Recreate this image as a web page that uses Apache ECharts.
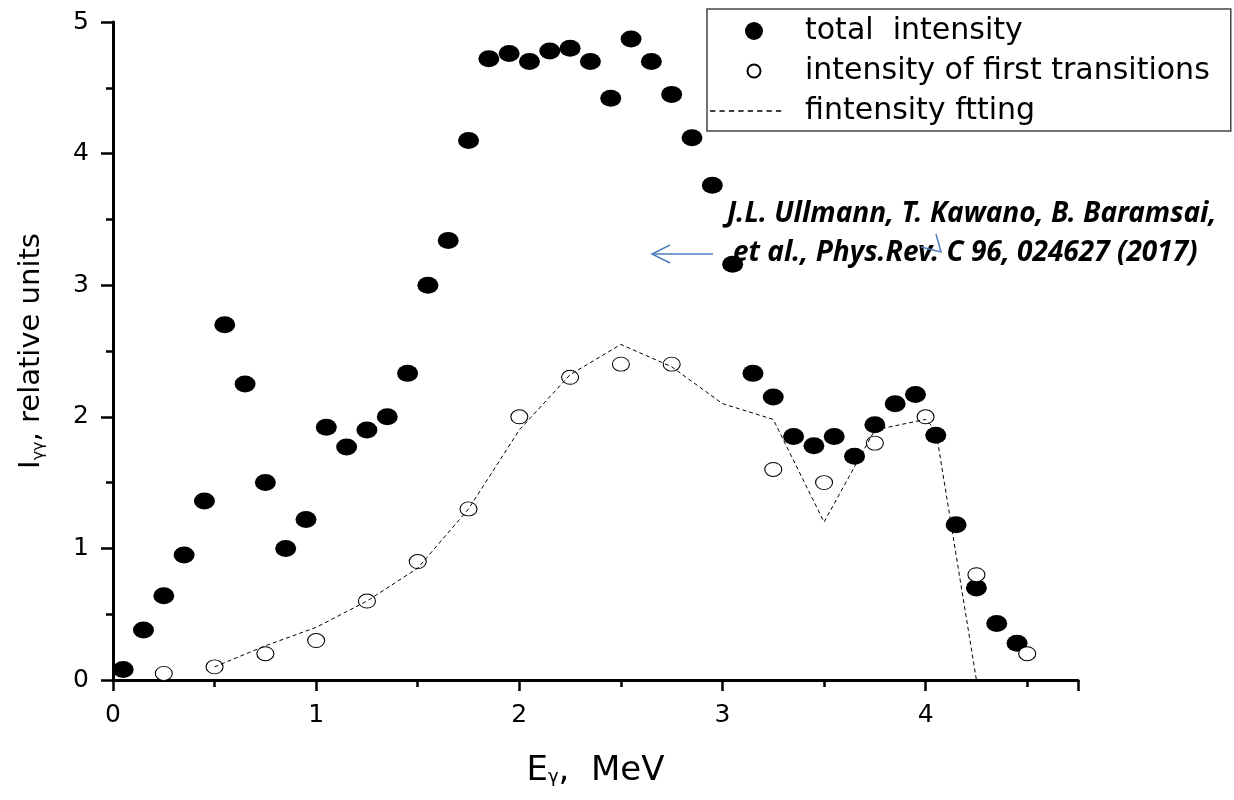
<!DOCTYPE html>
<html>
<head>
<meta charset="utf-8">
<script src="https://cdn.jsdelivr.net/npm/echarts@6/dist/echarts.min.js"></script>
<style>
html,body{margin:0;padding:0;background:#fff;}
#chart{width:1234px;height:800px;}
</style>
</head>
<body>
<div id="chart"></div>
<script>
// ---- data ----
const totalX = [0.05,0.15,0.25,0.35,0.45,0.55,0.65,0.75,0.85,0.95,
                1.05,1.15,1.25,1.35,1.45,1.55,1.65,1.75,1.85,1.95,
                2.05,2.15,2.25,2.35,2.45,2.55,2.65,2.75,2.85,2.95,
                3.05,3.15,3.25,3.35,3.45,3.55,3.65,3.75,3.85,3.95,
                4.05,4.15,4.25,4.35,4.45];
const totalY = [0.08,0.38,0.64,0.95,1.36,2.70,2.25,1.50,1.00,1.22,
                1.92,1.77,1.90,2.00,2.33,3.00,3.34,4.10,4.72,4.76,
                4.70,4.78,4.80,4.70,4.42,4.87,4.70,4.45,4.12,3.76,
                3.16,2.33,2.15,1.85,1.78,1.85,1.70,1.94,2.10,2.17,
                1.86,1.18,0.70,0.43,0.28];
const firstX = [0.25,0.5,0.75,1.0,1.25,1.5,1.75,2.0,2.25,2.5,2.75,3.25,3.5,3.75,4.0,4.25,4.5];
const firstY = [0.05,0.10,0.20,0.30,0.60,0.90,1.30,2.00,2.30,2.40,2.40,1.60,1.50,1.80,2.00,0.80,0.20];
const fitX = [0.5,0.75,1.0,1.25,1.5,1.75,2.0,2.25,2.5,2.75,3.0,3.25,3.5,3.75,4.0,4.05,4.25];
const fitY = [0.10,0.26,0.40,0.60,0.85,1.30,1.90,2.32,2.55,2.38,2.10,1.98,1.20,1.90,1.98,1.90,0.00];
const seriesNames = ['total  intensity', 'intensity of first transitions', 'fintensity ftting'];
const xTickLabels = ['0','1','2','3','4'];
const yTickLabels = ['0','1','2','3','4','5'];
const noteLines = ['J.L. Ullmann, T. Kawano, B. Baramsai,', 'et al., Phys.Rev. C 96, 024627 (2017)'];

const pair = (xs, ys) => xs.map((x, i) => [x, ys[i]]);

// legend icons
const openIcon = 'path://M0,0L0,0M18,18L18,18M9,2.5C12.6,2.5 15.5,5.4 15.5,9C15.5,12.6 12.6,15.5 9,15.5C5.4,15.5 2.5,12.6 2.5,9C2.5,5.4 5.4,2.5 9,2.5Z';
let dashIcon = 'path://M0,0L0,0M88,0L88,0';
for (let k = 0; k < 8; k++) { const x = 2 + k * 9; dashIcon += 'M' + x + ',0h5v1.3h-5z'; }

const FONT = 'DejaVu Sans';
const NOTE_FONT = 'Noto Sans';
const chart = echarts.init(document.getElementById('chart'), null, {renderer: 'canvas'});
chart.setOption({
  backgroundColor: '#fff',
  animation: false,
  grid: {left: 113, right: 156, top: 22, bottom: 120, containLabel: false},
  legend: {
    orient: 'vertical', left: 707, top: 9,
    padding: [7, 21, 5, 1],
    itemWidth: 92, itemHeight: 18, itemGap: 10,
    borderColor: '#444', borderWidth: 1.5,
    textStyle: {fontFamily: FONT, fontSize: 30, color: '#000', lineHeight: 29},
    selectedMode: false,
    data: [
      {name: seriesNames[0], icon: 'circle'},
      {name: seriesNames[1], icon: openIcon},
      {name: seriesNames[2], icon: dashIcon, itemStyle: {borderWidth: 0}}
    ]
  },
  xAxis: {
    type: 'value', min: 0, max: 4.75, interval: 1,
    name: '{m|E}{s|γ}{m|,  MeV}', nameLocation: 'middle', nameGap: 74,
    nameTextStyle: {
      rich: {
        m: {fontFamily: FONT, fontSize: 34, color: '#000', lineHeight: 32, verticalAlign: 'top'},
        s: {fontFamily: FONT, fontSize: 18, color: '#000', lineHeight: 17, verticalAlign: 'bottom'}
      },
      lineHeight: 40
    },
    axisLine: {lineStyle: {color: '#000', width: 3}},
    axisTick: {length: 11, lineStyle: {color: '#000', width: 2.5}},
    minorTick: {show: true, splitNumber: 2, length: 7, lineStyle: {color: '#000', width: 2.5}},
    splitLine: {show: false},
    axisLabel: {
      fontFamily: FONT, fontSize: 25, color: '#000', margin: 23,
      formatter: v => (Number.isInteger(v) && v < xTickLabels.length) ? xTickLabels[v] : ''
    }
  },
  yAxis: {
    type: 'value', min: 0, max: 5, interval: 1,
    name: '{m|I}{s|γγ}{m|, relative units}', nameLocation: 'middle', nameGap: 66,
    nameTextStyle: {
      rich: {
        m: {fontFamily: FONT, fontSize: 29, color: '#000', lineHeight: 30, verticalAlign: 'top'},
        s: {fontFamily: FONT, fontSize: 16, color: '#000', lineHeight: 16, verticalAlign: 'bottom'}
      },
      lineHeight: 38
    },
    axisLine: {show: true, lineStyle: {color: '#000', width: 3}},
    axisTick: {show: true, length: 12, lineStyle: {color: '#000', width: 2.5}},
    minorTick: {show: true, splitNumber: 2, length: 7, lineStyle: {color: '#000', width: 2.5}},
    splitLine: {show: false},
    axisLabel: {
      fontFamily: FONT, fontSize: 25, color: '#000', margin: 24,
      formatter: v => (Number.isInteger(v) && v < yTickLabels.length) ? yTickLabels[v] : ''
    }
  },
  graphic: [
    {type: 'text', left: 727, top: 200, z: 0,
     style: {text: noteLines[0], fontFamily: NOTE_FONT, fontWeight: 'bold', fontStyle: 'italic', fontSize: 28, fill: '#000'}},
    {type: 'text', left: 733, top: 239, z: 0,
     style: {text: noteLines[1], fontFamily: NOTE_FONT, fontWeight: 'bold', fontStyle: 'italic', fontSize: 28, fill: '#000'}},
    {type: 'polyline', z: 0, shape: {points: [[713, 254], [652, 254]]}, style: {stroke: '#4f7fc0', lineWidth: 1.5, fill: null}},
    {type: 'polyline', z: 0, shape: {points: [[670, 245], [652, 254], [670, 263]]}, style: {stroke: '#4f7fc0', lineWidth: 1.5, fill: null}},
    {type: 'polyline', z: 1, shape: {points: [[936, 234], [941, 252], [921, 247]]}, style: {stroke: '#4f7fc0', lineWidth: 1.5, fill: null}}
  ],
  series: [
    {
      name: seriesNames[0], type: 'scatter', data: pair(totalX, totalY),
      symbol: 'circle', symbolSize: [21, 17], z: 3,
      itemStyle: {color: '#000', opacity: 1}
    },
    {
      name: seriesNames[1], type: 'scatter', data: pair(firstX, firstY),
      symbol: 'circle', symbolSize: [17, 14], z: 4,
      itemStyle: {color: '#fff', borderColor: '#000', borderWidth: 1, opacity: 1}
    },
    {
      name: seriesNames[2], type: 'line', data: pair(fitX, fitY),
      showSymbol: false, symbol: 'none', z: 5,
      itemStyle: {color: '#000'},
      lineStyle: {color: '#000', width: 1, type: [4, 3]}
    }
  ]
});
</script>
</body>
</html>
